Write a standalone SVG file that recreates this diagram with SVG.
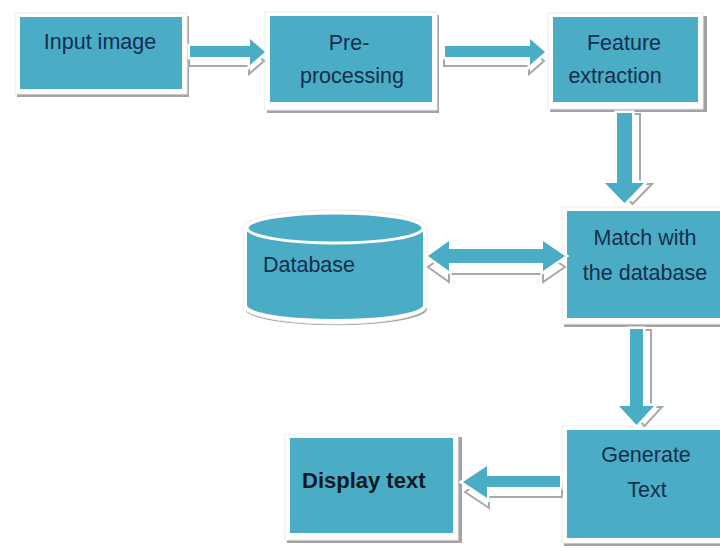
<svg xmlns="http://www.w3.org/2000/svg" width="720" height="548" viewBox="0 0 720 548">
  <style>
    .shadow { fill: #a3a3a3; }
    .rim { fill: #ffffff; stroke: #ececec; stroke-width: 1; }
    .face { fill: #4bacc6; }
    .label { font-family: "Liberation Sans", Arial, sans-serif; font-size: 21.5px; fill: #142f4c; text-anchor: middle; }
    .bold { font-weight: bold; fill: #101a24; text-anchor: start; }
    .arr-shadow { fill: #ffffff; stroke: #a8a8a8; stroke-width: 2; stroke-linejoin: miter; }
    .arr { fill: #4bacc6; stroke: #ffffff; stroke-width: 5; stroke-linejoin: miter; paint-order: stroke; }
  </style>
  <rect width="720" height="548" fill="#ffffff"/>

  <!-- Process boxes: grey drop shadow, white bevel rim, aqua face -->
  <g id="input-image">
    <rect class="shadow" x="17" y="16" width="172" height="81"/>
    <rect class="rim" x="15" y="13" width="172" height="81"/>
    <rect class="face" x="20" y="17" width="162" height="72"/>
    <text class="label" x="100" y="49">Input image</text>
  </g>

  <g id="pre-processing">
    <rect class="shadow" x="267" y="15" width="172" height="98"/>
    <rect class="rim" x="265" y="12" width="172" height="98"/>
    <rect class="face" x="270" y="16" width="162" height="86"/>
    <text class="label" x="349" y="50">Pre-</text>
    <text class="label" x="352" y="83">processing</text>
  </g>

  <g id="feature-extraction">
    <rect class="shadow" x="550" y="16" width="157" height="96"/>
    <rect class="rim" x="548" y="13" width="155" height="96"/>
    <rect class="face" x="553" y="17" width="145" height="85"/>
    <text class="label" x="624" y="50">Feature</text>
    <text class="label" x="615" y="83">extraction</text>
  </g>

  <g id="database">
    <path class="shadow" d="M245,230 A90,16 0 0 1 427,230 L427,309 A90,16 0 0 1 245,309 Z"/>
    <path fill="#ffffff" stroke="#ececec" stroke-width="1" d="M243,228 A92,18 0 0 1 427,228 L427,306 A92,18 0 0 1 243,306 Z"/>
    <path class="face" d="M247,228 A88,15 0 0 1 423,228 L423,305 A88,14 0 0 1 247,305 Z"/>
    <ellipse cx="335" cy="228" rx="88" ry="15" fill="#4bacc6" stroke="#ffffff" stroke-width="3"/>
    <text class="label" x="263" y="272" style="text-anchor:start">Database</text>
  </g>

  <g id="match-database">
    <rect class="shadow" x="564" y="210" width="160" height="117"/>
    <rect class="rim" x="562" y="207" width="160" height="117"/>
    <rect class="face" x="567" y="211" width="155" height="107"/>
    <text class="label" x="645" y="245">Match with</text>
    <text class="label" x="645" y="280">the database</text>
  </g>

  <g id="generate-text">
    <rect class="shadow" x="564" y="429" width="160" height="117"/>
    <rect class="rim" x="562" y="426" width="160" height="117"/>
    <rect class="face" x="567" y="430" width="155" height="108"/>
    <text class="label" x="646" y="462">Generate</text>
    <text class="label" x="647" y="497">Text</text>
  </g>

  <g id="display-text">
    <rect class="shadow" x="287" y="437" width="175" height="106"/>
    <rect class="rim" x="285" y="434" width="173" height="106"/>
    <rect class="face" x="290" y="438" width="163" height="95"/>
    <text class="label bold" x="302" y="488" style="font-size:22px">Display text</text>
  </g>

  <!-- Block-arrow connectors -->
  <g id="connectors">
    <g id="input-to-pre">
      <path class="arr-shadow" transform="translate(-1,9)" d="M190,46 H250 V39 L265,52 L250,65 V57 H190 Z"/>
      <path class="arr" d="M190,46 H250 V39 L265,52 L250,65 V57 H190 Z"/>
    </g>
    <g id="pre-to-feature">
      <path class="arr-shadow" transform="translate(-1,9)" d="M445,46 H530 V39 L545,52 L530,65 V57 H445 Z"/>
      <path class="arr" d="M445,46 H530 V39 L545,52 L530,65 V57 H445 Z"/>
    </g>
    <g id="feature-to-match">
      <path class="arr-shadow" transform="translate(8,1)" d="M617,113 V183 H605 L624.5,203 L644,183 H632 V113 Z"/>
      <path class="arr" d="M617,113 V183 H605 L624.5,203 L644,183 H632 V113 Z"/>
    </g>
    <g id="database-match">
      <path class="arr-shadow" transform="translate(0,11)" d="M428,256 L449,241 V249 H543 V241 L565,256 L543,271 V263 H449 V271 Z"/>
      <path class="arr" d="M428,256 L449,241 V249 H543 V241 L565,256 L543,271 V263 H449 V271 Z"/>
    </g>
    <g id="match-to-generate">
      <path class="arr-shadow" transform="translate(8,1)" d="M630,329 V406 H619 L636.5,425 L654,406 H643 V329 Z"/>
      <path class="arr" d="M630,329 V406 H619 L636.5,425 L654,406 H643 V329 Z"/>
    </g>
    <g id="generate-to-display">
      <path class="arr-shadow" transform="translate(2,10)" d="M560,476 H487 V466 L463,482 L487,498 V487 H560 Z"/>
      <path class="arr" d="M560,476 H487 V466 L463,482 L487,498 V487 H560 Z"/>
    </g>
  </g>
</svg>
